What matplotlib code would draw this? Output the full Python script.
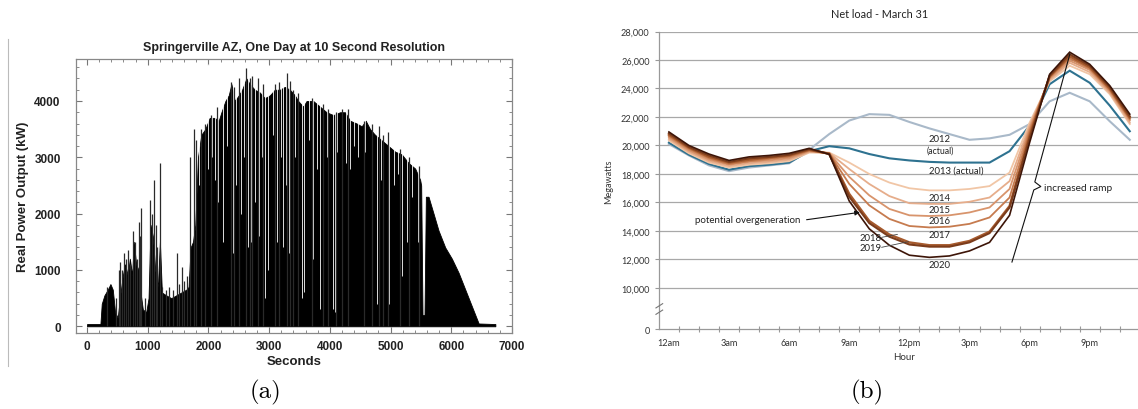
import matplotlib
matplotlib.use("Agg")
import matplotlib.pyplot as plt
import matplotlib.transforms as mtransforms
from matplotlib.ticker import MultipleLocator, FixedLocator

plt.rcParams['font.family'] = ['Liberation Sans', 'DejaVu Sans']

# ---------------- (a) Springerville one-day PV output ----------------
# upper edge of the solid output band (seconds, kW)
t_env = [0, 220, 242, 286, 341, 385, 424, 462, 506, 540, 589, 627, 671, 705, 743, 770,
         809, 848, 881, 919, 974, 1013, 1046, 1084, 1123, 1167, 1200, 1233, 1304, 1387,
         1470, 1552, 1635, 1673, 1706, 1745, 1783, 1827, 1882, 1948, 2020, 2102, 2169,
         2213, 2279, 2334, 2378, 2433, 2499, 2554, 2625, 2680, 2763, 2846, 2928, 3011,
         3093, 3176, 3258, 3341, 3423, 3478, 3561, 3616, 3726, 3836, 3946, 4056, 4167,
         4249, 4332, 4442, 4524, 4590, 4662, 4744, 4855, 4965, 5075, 5185, 5295, 5405,
         5487, 5504, 5526, 5559, 5581, 5625, 5708, 5790, 5900, 6010, 6121, 6231, 6341,
         6451, 6726]
kw_env = [40, 40, 400, 550, 650, 750, 650, 250, 150, 500, 900, 1100, 900, 1200, 900, 1500,
          1100, 1000, 600, 300, 250, 500, 1800, 1600, 1000, 700, 1500, 600, 550, 500,
          550, 600, 650, 700, 1400, 1500, 1800, 3000, 3400, 3500, 3700, 3700, 3650,
          3800, 4000, 4100, 4300, 4000, 4100, 4200, 4400, 4300, 4200, 4150, 4050, 4100,
          4200, 4200, 4250, 4200, 4100, 4000, 3900, 4000, 4000, 3900, 3800, 3750, 3800,
          3800, 3650, 3600, 3550, 3650, 3500, 3400, 3300, 3200, 3100, 3050, 2900, 2800,
          2600, 2500, 200, 200, 2300, 2300, 2000, 1700, 1400, 1200, 950, 650, 350,
          50, 40]

# short cloud drop-outs (seconds, lowest kW)
dip_t = [1800, 1850, 1937, 1990, 2060, 2110, 2157, 2240, 2300, 2405, 2460, 2532, 2580,
         2653, 2708, 2760, 2829, 2880, 2928, 2983, 3060, 3126, 3190, 3231, 3280, 3324,
         3430, 3534, 3578, 3650, 3726, 3780, 3836, 3891, 3960, 4056, 4084, 4120, 4194,
         4260, 4332, 4400, 4470, 4580, 4689, 4772, 4850, 4976, 5050, 5120, 5185, 5267,
         5350, 5449]
dip_kw = [1600, 2500, 1500, 2800, 3000, 2600, 2200, 1500, 3200, 1300, 2500, 2000, 3000,
          1400, 1500, 2200, 1600, 3000, 500, 1000, 3400, 1500, 3000, 1400, 2500, 1300,
          3000, 500, 600, 3300, 1200, 2800, 300, 1500, 3000, 300, 250, 3100, 1800,
          2900, 2800, 3200, 3000, 3100, 2900, 400, 2600, 400, 2500, 2700, 900, 1500,
          2300, 1500]

# brief cloud-edge peaks (seconds, kW)
spike_t = [330, 480, 520, 550, 580, 605, 640, 671, 700, 765, 790, 830, 853, 870, 892,
           960, 1040, 1070, 1101, 1140, 1160, 1194, 1230, 1300, 1350, 1420, 1481, 1520,
           1558, 1600, 1640, 1690, 1756, 1800, 1882, 1950, 2050, 2147, 2367, 2420, 2500,
           2625, 2680, 2720, 2818, 2900, 3100, 3159, 3286, 3340, 3396, 3480, 3700, 3880,
           3974, 4100, 4205, 4300, 4560, 4700, 4816, 4882, 4950, 5150, 5300, 5470]
spike_kw = [700, 500, 1000, 1150, 1000, 1300, 1200, 1350, 1100, 1700, 1500, 1200, 1850,
            1600, 2100, 500, 2250, 2000, 2600, 1800, 1400, 2900, 700, 650, 700, 650, 1300,
            750, 1050, 800, 900, 3000, 3500, 3300, 3500, 3600, 3750, 3900, 4330, 4250,
            4400, 4590, 4400, 4450, 4400, 4300, 4300, 4330, 4500, 4350, 4200, 4150, 4050,
            3950, 3850, 3800, 3850, 3850, 3650, 3600, 3550, 3400, 3450, 3150, 3000, 2850]

# ---------------- (b) CAISO net load, March 31 ----------------
hours = list(range(24))
hour_labels = ['12am', '3am', '6am', '9am', '12pm', '3pm', '6pm', '9pm']
years = ['2012', '2013', '2014', '2015', '2016', '2017', '2018', '2019', '2020']
load_2012 = [20100, 19300, 18600, 18200, 18450, 18600, 18750, 19700, 20800, 21750, 22200, 22150,
             21650, 21200, 20800, 20400, 20500, 20750, 21500, 23100, 23700, 23100, 21700, 20400]
load_2013 = [20200, 19350, 18700, 18300, 18550, 18650, 18800, 19600, 19950, 19800, 19400, 19100,
             18950, 18850, 18800, 18800, 18800, 19600, 21400, 24300, 25250, 24400, 22800, 21000]
load_2014 = [20350, 19450, 18800, 18450, 18650, 18750, 18900, 19500, 19500, 18800, 18000, 17400,
             17000, 16850, 16850, 16950, 17150, 18100, 21600, 24500, 25600, 25000, 23600, 21500]
load_2015 = [20450, 19550, 18900, 18550, 18750, 18850, 19000, 19550, 19480, 18350, 17300, 16450,
             15950, 15900, 15900, 16050, 16350, 17500, 21400, 24600, 25800, 25150, 23700, 21600]
load_2016 = [20550, 19650, 19000, 18650, 18850, 18950, 19100, 19600, 19460, 17800, 16500, 15550,
             15100, 15050, 15100, 15300, 15650, 16950, 21200, 24700, 25950, 25300, 23800, 21750]
load_2017 = [20650, 19750, 19100, 18700, 18900, 19050, 19200, 19650, 19440, 17300, 15800, 14850,
             14350, 14250, 14300, 14500, 14950, 16350, 21000, 24800, 26100, 25400, 23900, 21850]
load_2018 = [20750, 19850, 19200, 18800, 19000, 19150, 19300, 19700, 19420, 16600, 14700, 13750,
             13200, 13000, 13000, 13300, 13950, 15750, 20700, 24850, 26250, 25500, 24000, 21950]
load_2019 = [20850, 19900, 19300, 18850, 19100, 19200, 19350, 19750, 19400, 16400, 14550, 13600,
             13050, 12900, 12900, 13200, 13850, 15650, 20500, 24900, 26400, 25600, 24100, 22050]
load_2020 = [20950, 20000, 19400, 18950, 19200, 19300, 19450, 19800, 19380, 16100, 14150, 13000,
             12300, 12150, 12250, 12600, 13200, 15100, 20200, 25000, 26550, 25700, 24200, 22200]
loads = [load_2012, load_2013, load_2014, load_2015, load_2016, load_2017, load_2018,
         load_2019, load_2020]
line_colors = ['#a9b9c9', '#2e7290', '#f1c6a6', '#e6ad8b', '#d8946c', '#c67b4f', '#a65a2d',
               '#7c3c1b', '#3d1508']
line_widths = [1.5, 1.5, 1.3, 1.3, 1.3, 1.3, 1.7, 1.5, 1.2]
y_levels = [10000, 12000, 14000, 16000, 18000, 20000, 22000, 24000, 26000, 28000]
Y_ZERO = 7100  # where the broken axis puts its "0"

W, H = 1138, 410
fig = plt.figure(figsize=(W / 100, H / 100), dpi=100)


def fx(px):
    return px / W


def fy(py):
    return 1 - py / H


# ----- panel (a) -----
fig.add_artist(plt.Line2D([fx(8), fx(8)], [fy(40), fy(367)], color='#bbbbbb', lw=0.8))
ax1 = fig.add_axes([fx(76), fy(334), fx(512 - 76), (334 - 60.4) / H])
ax1.fill_between(t_env, 0, kw_env, color='black', lw=0.6, edgecolor='black', zorder=2)
ax1.vlines(dip_t, dip_kw, 4650, colors='white', lw=0.6, zorder=3)
ax1.vlines(spike_t, 0, spike_kw, colors='#2a2a2a', lw=0.9, zorder=4)
ax1.set_xlim(-182, 6918)
ax1.set_ylim(-119, 4738)
ax1.set_xticks([0, 1000, 2000, 3000, 4000, 5000, 6000, 7000])
ax1.set_yticks([0, 1000, 2000, 3000, 4000])
ax1.xaxis.set_minor_locator(MultipleLocator(200))
ax1.yaxis.set_minor_locator(MultipleLocator(200))
ax1.tick_params(which='both', direction='in', top=True, right=True, color='#777777')
ax1.tick_params(which='major', length=4, width=0.8, labelsize=8.5)
ax1.tick_params(which='minor', length=2, width=0.6)
ax1.tick_params(axis='y', pad=11)
ax1.tick_params(axis='x', pad=5)
for lab in ax1.get_xticklabels() + ax1.get_yticklabels():
    lab.set_fontweight('bold')
    lab.set_color('#222222')
for s in ax1.spines.values():
    s.set_color('#888888')
    s.set_linewidth(0.9)
ax1.set_title('Springerville AZ, One Day at 10 Second Resolution', fontsize=9,
              fontweight='bold', color='#222222', pad=7)
ax1.set_xlabel('Seconds', fontsize=9.5, fontweight='bold', color='#222222', labelpad=2)
ax1.set_ylabel('Real Power Output (kW)', fontsize=9.5, fontweight='bold', color='#222222',
               labelpad=4)

# ----- panel (b) -----
bfont = ['Lato', 'DejaVu Sans']
ax2 = fig.add_axes([fx(659.3), fy(330.3), fx(W - 659.3), (330.3 - 32.5) / H])
for lv in y_levels:
    ax2.axhline(lv, color='#a8a8a8', lw=0.9, zorder=1)
for yr, vals, c, lw in zip(years, loads, line_colors, line_widths):
    ax2.plot(hours, vals, color=c, lw=lw, zorder=3, solid_joinstyle='miter')
ax2.set_xlim(-0.48, 23.41)
ax2.set_ylim(Y_ZERO, 28000)
ax2.set_yticks([Y_ZERO] + y_levels)
ax2.set_yticklabels(['0'] + [f'{v:,}' for v in y_levels], fontfamily=bfont, fontsize=6.6,
                    color='#333333')
ax2.set_xticks(hours[::3])
ax2.set_xticklabels(hour_labels, fontfamily=bfont, fontsize=6.6, color='#333333')
ax2.xaxis.set_minor_locator(FixedLocator([h + 0.5 for h in hours]))
ax2.tick_params(axis='x', which='major', length=0, pad=6)
ax2.tick_params(axis='x', which='minor', length=4, direction='inout', color='#999999',
                width=0.8)
ax2.tick_params(axis='y', length=3, color='#999999', width=0.8, pad=4)
for side in ('top', 'right'):
    ax2.spines[side].set_visible(False)
for side in ('left', 'bottom'):
    ax2.spines[side].set_color('#999999')
    ax2.spines[side].set_linewidth(0.9)
ax2.set_xlabel('Hour', fontfamily=bfont, fontsize=7, color='#333333')
ax2.xaxis.set_label_coords(0.512, -0.075)
ax2.set_ylabel('Megawatts', fontfamily=bfont, fontsize=6.5, color='#333333')
ax2.yaxis.set_label_coords(-0.097, 0.5)
fig.text(fx(880), fy(15), 'Net load - March 31', ha='center', va='center',
         fontfamily=bfont, fontsize=7.8, color='#222222')

# axis break marks on the y axis
brk = mtransforms.blended_transform_factory(ax2.transAxes, ax2.transData)
for dy in (0, 450):
    ax2.plot([-0.007, 0.007], [8150 + dy, 8450 + dy], color='#777777', lw=0.8,
             transform=brk, clip_on=False, zorder=5)

# annotations
txt = dict(fontfamily=bfont, fontsize=6.8, color='#222222', ha='center', va='center',
           zorder=6)
ax2.text(13.5, 20500, '2012', **txt)
ax2.text(13.52, 19700, '(actual)', **dict(txt, fontsize=6.2))
ax2.text(14.36, 18300, '2013 (actual)', **txt)
ax2.text(13.5, 16360, '2014', **txt)
ax2.text(13.5, 15540, '2015', **txt)
ax2.text(13.5, 14770, '2016', **txt)
ax2.text(13.5, 13720, '2017', **txt)
ax2.text(13.5, 11680, '2020', **txt)
ax2.text(10.6, 13555, '2018', **dict(txt, ha='right'))
ax2.text(10.6, 12855, '2019', **dict(txt, ha='right'))
ax2.plot([10.62, 11.4], [13555, 13760], color='#444444', lw=0.6, zorder=6)
ax2.plot([10.62, 11.95], [12855, 13250], color='#444444', lw=0.6, zorder=6)
ax2.text(3.93, 14840, 'potential overgeneration', **dict(txt, fontsize=7))
ax2.annotate('', xy=(9.53, 15310), xytext=(6.87, 14790),
             arrowprops=dict(arrowstyle='-|>', color='#111111', lw=0.8,
                             mutation_scale=7, shrinkA=0, shrinkB=0), zorder=6)
ax2.text(18.71, 17020, 'increased ramp', **dict(txt, fontsize=7.3, ha='left'))
ax2.plot([20.01, 18.26, 18.56, 18.21, 17.12], [26420, 17440, 17120, 16880, 11820],
         color='#111111', lw=0.8, zorder=6)

# sub-figure captions
fig.text(fx(265), fy(392), '(a)', fontfamily='cmr10', fontsize=18, ha='center',
         va='center')
fig.text(fx(867), fy(392), '(b)', fontfamily='cmr10', fontsize=18, ha='center',
         va='center')

fig.savefig('out.png', dpi=100)
